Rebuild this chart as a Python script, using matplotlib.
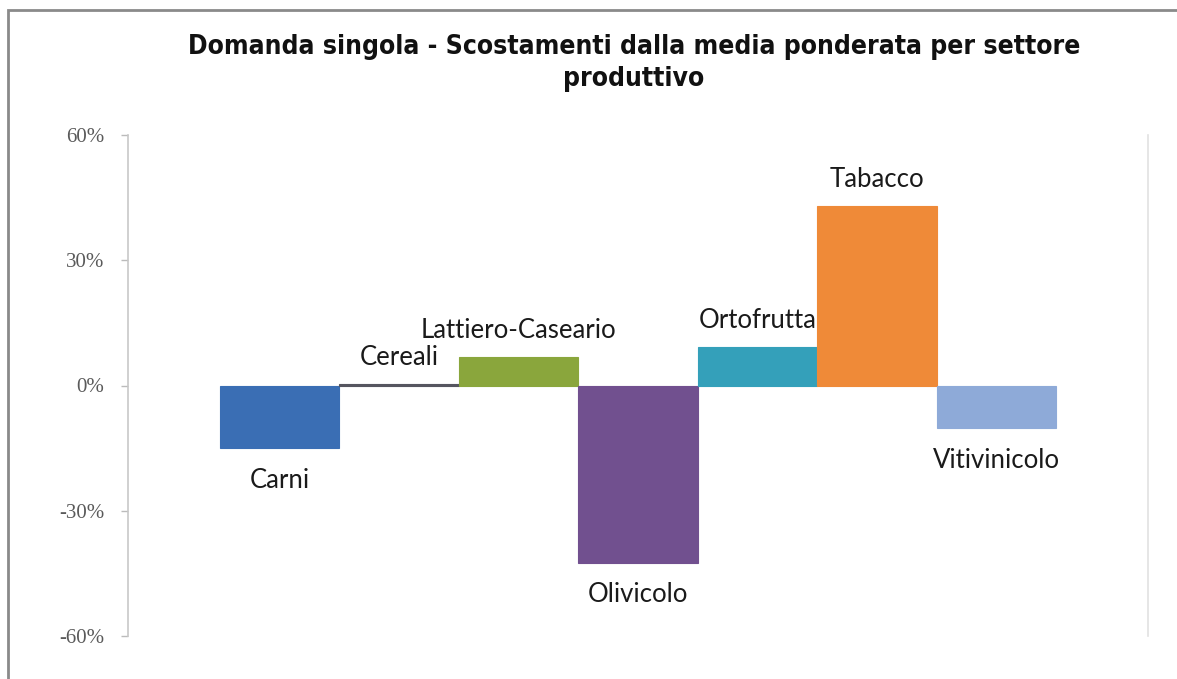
import matplotlib
matplotlib.use("Agg")
import matplotlib.pyplot as plt
from matplotlib.patches import Rectangle

categories = ["Carni", "Cereali", "Lattiero-Caseario", "Olivicolo", "Ortofrutta", "Tabacco", "Vitivinicolo"]
values = [-15.0, 0.4, 6.8, -42.5, 9.3, 43.0, -10.2]
colors = ["#3a6eb4", "#55555f", "#8aa63c", "#71508f", "#34a0ba", "#ef8a38", "#8eaad8"]
yticks = [-60, -30, 0, 30, 60]
ytick_labels = ["-60%", "-30%", "0%", "30%", "60%"]
title = "Domanda singola - Scostamenti dalla media ponderata per settore\nproduttivo"

W, H = 1177, 679
fig = plt.figure(figsize=(W / 100, H / 100), dpi=100)
fig.patch.set_facecolor("white")

# chart frame
fig.add_artist(Rectangle((8 / W, -0.01), (1180 - 8) / W, (H - 10) / H + 0.01,
                         transform=fig.transFigure, fill=False,
                         edgecolor="#8a8a8a", linewidth=2.0))

left, right = 128, 1148
top, bottom = 135, 636
ax = fig.add_axes([left / W, 1 - bottom / H, (right - left) / W, (bottom - top) / H])

x = list(range(len(categories)))
ax.bar(x, values, width=1.0, color=colors, edgecolor=colors, linewidth=0.8)

pad = 0.77
ax.set_xlim(-0.5 - pad, len(categories) - 0.5 + pad)
ax.set_ylim(-60, 60)
ax.set_yticks(yticks)
ax.set_yticklabels(ytick_labels, family=["Liberation Serif", "DejaVu Serif"],
                   fontsize=15, color="#5a5a5a")
ax.set_xticks([])
ax.tick_params(axis="y", length=5, color="#bbbbbb", width=1, pad=12)
for s in ["top", "bottom"]:
    ax.spines[s].set_visible(False)
ax.spines["left"].set_color("#c8c8c8")
ax.spines["left"].set_linewidth(1.2)
ax.spines["right"].set_color("#e2e2e2")
ax.spines["right"].set_linewidth(1.2)

for xi, v, c in zip(x, values, categories):
    off = 19 if v >= 0 else -23
    ax.annotate(c, (xi, v), xytext=(0, off), textcoords="offset points",
                ha="center", va="center", fontsize=18.5,
                family=["Lato", "DejaVu Sans"], color="#1a1a1a")

fig.text(634 / W, 1 - 63 / H, title, ha="center", va="center", fontsize=19,
         fontweight="bold", fontstretch="condensed",
         family=["DejaVu Sans"], linespacing=1.25, color="#111111")

fig.savefig("out.png", dpi=100)
